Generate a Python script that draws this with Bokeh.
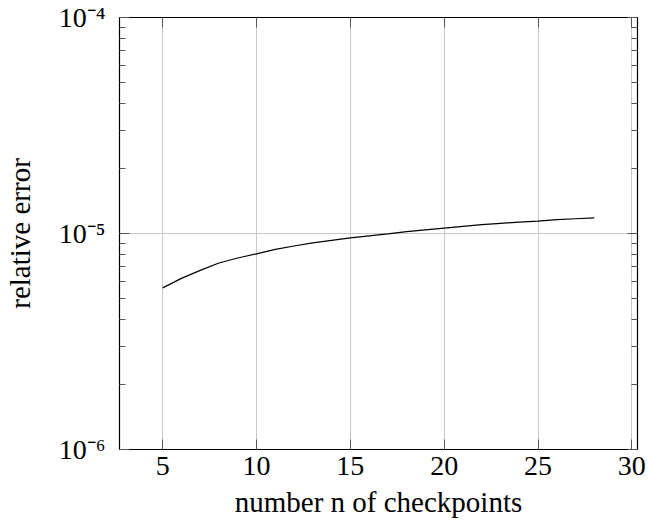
from bokeh.plotting import figure
from bokeh.models import FixedTicker, LinearAxis, LogAxis, Range1d
from bokeh.embed import file_html
from bokeh.resources import INLINE

# data
n_checkpoints = [5, 6, 7, 8, 9, 10, 11, 12, 13, 14, 15, 16, 17, 18, 19, 20,
                 21, 22, 23, 24, 25, 26, 27, 28]
rel_error = [5.6e-6, 6.2e-6, 6.75e-6, 7.3e-6, 7.7e-6, 8.05e-6, 8.45e-6, 8.75e-6,
             9.05e-6, 9.3e-6, 9.55e-6, 9.75e-6, 9.95e-6, 1.02e-5, 1.04e-5, 1.06e-5,
             1.08e-5, 1.10e-5, 1.115e-5, 1.13e-5, 1.14e-5, 1.16e-5, 1.17e-5, 1.18e-5]
x_ticks = [5, 10, 15, 20, 25, 30]
y_ticks = [1e-6, 1e-5, 1e-4]
y_tick_labels = {1e-6: "10⁻⁶", 1e-5: "10⁻⁵", 1e-4: "10⁻⁴"}
y_minor = [m * d for d in (1e-6, 1e-5) for m in range(2, 10)]

FONT = "Liberation Serif"

p = figure(width=648, height=528, output_backend="svg", toolbar_location=None,
           y_axis_type="log", x_axis_location=None, y_axis_location=None,
           x_range=Range1d(2.7, 30.3), y_range=Range1d(1e-6, 1e-4),
           min_border_left=118, min_border_right=11, min_border_top=17,
           min_border_bottom=79)
p.outline_line_color = "black"
p.outline_line_width = 1.2
p.background_fill_color = "white"
p.border_fill_color = "white"

def style(ax):
    ax.axis_line_color = None
    ax.major_tick_in = 10
    ax.major_tick_out = 0
    ax.minor_tick_in = 6
    ax.minor_tick_out = 0
    ax.major_tick_line_color = "#555555"
    ax.minor_tick_line_color = "#555555"
    ax.major_label_text_font = FONT
    ax.major_label_text_font_size = "28px"
    ax.major_label_text_color = "black"
    ax.axis_label_text_font = FONT
    ax.axis_label_text_font_size = "29px"
    ax.axis_label_text_font_style = "normal"
    ax.axis_label_text_color = "black"

xt = FixedTicker(ticks=x_ticks, minor_ticks=[])
yt = FixedTicker(ticks=y_ticks, minor_ticks=y_minor)

xb = LinearAxis(ticker=xt, axis_label="number n of checkpoints")
style(xb)
xb.major_label_standoff = 7
xb.axis_label_standoff = 8
xb.minor_tick_in = 0
p.add_layout(xb, "below")

xtop = LinearAxis(ticker=xt)
style(xtop)
xtop.major_label_overrides = {t: "" for t in x_ticks}
xtop.major_label_standoff = 0
xtop.minor_tick_in = 0
p.add_layout(xtop, "above")

yl = LogAxis(ticker=yt, axis_label="relative error")
style(yl)
yl.major_label_overrides = y_tick_labels
yl.major_label_standoff = 14
yl.axis_label_standoff = 20
p.add_layout(yl, "left")

yr = LogAxis(ticker=yt)
style(yr)
yr.major_label_overrides = {t: "" for t in y_ticks}
yr.major_label_standoff = 0
p.add_layout(yr, "right")

p.xgrid.ticker = xt
p.ygrid.ticker = yt
p.xgrid.grid_line_color = "#c8c8c8"
p.ygrid.grid_line_color = "#c8c8c8"
p.xgrid.grid_line_width = 1
p.ygrid.grid_line_width = 1

p.line(n_checkpoints, rel_error, line_color="black", line_width=1.2)

open("out.html", "w").write(file_html(p, INLINE))
